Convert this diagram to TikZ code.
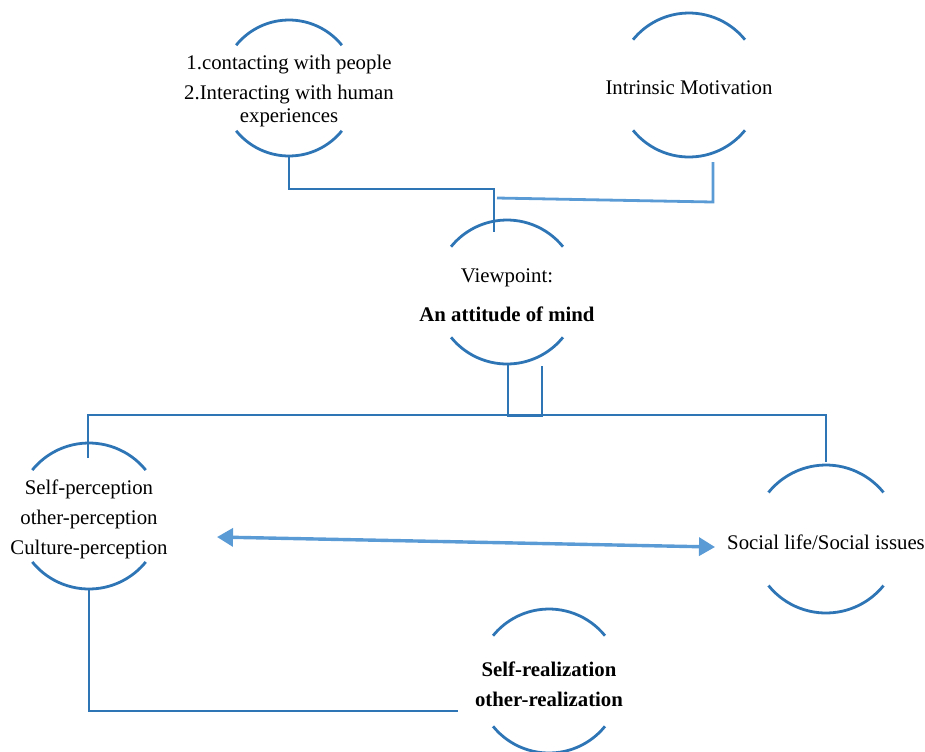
\documentclass[tikz,border=0pt]{standalone}
\usepackage{fontspec}
\setmainfont{Liberation Serif}
\usepackage{tikz}
\usetikzlibrary{calc}
\usetikzlibrary{arrows.meta}
\definecolor{ringblue}{HTML}{2E75B6}
\definecolor{lightblue}{HTML}{5B9BD5}
% two open arcs round a text node, plus its top and bottom points
\newcommand{\ringarcs}[2]{%
\coordinate (#1-c) at ($(#1.center)+(0,3)$);
\draw[ring] (#1-c) ++(39:#2) arc[start angle=39, end angle=141, radius=#2];
\draw[ring] (#1-c) ++(219:#2) arc[start angle=219, end angle=321, radius=#2];
\coordinate (#1-top) at ($(#1-c)+(0,#2)$);
\coordinate (#1-bot) at ($(#1-c)+(0,-#2)$);
}

\begin{document}
\begin{tikzpicture}[x=0.5pt, y=0.5pt,
  ring/.style={draw=ringblue, line width=1.4pt},
  link/.style={draw=ringblue, line width=1.4pt},
  lightlink/.style={draw=lightblue, line width=1.4pt},
  txt/.style={font=\fontsize{10.4}{15}\selectfont, align=center, inner sep=0pt}]
\useasboundingbox (0,0) rectangle (925,-751);
\node[txt] (contact) at (289,-91) {1.contacting with people\\2.Interacting with human\\[-3.25pt]experiences};
\node[txt] (motiv) at (689,-88) {Intrinsic Motivation};
\node[txt] (view) at (507,-295) {Viewpoint:\\[4.5pt]\textbf{An attitude of mind}};
\node[txt] (selfper) at (89,-519) {Self-perception\\other-perception\\Culture-perception};
\node[txt] (social) at (826,-542) {Social life/Social issues};
\node[txt] (selfreal) at (549,-684) {\textbf{Self-realization}\\\textbf{other-realization}};
\ringarcs{contact}{68}
\ringarcs{motiv}{72}
\ringarcs{view}{72}
\ringarcs{selfper}{73}
\ringarcs{social}{74}
\ringarcs{selfreal}{72}
% free ends of the connectors
\coordinate (vjoin) at (494,-232);
\coordinate (mfoot) at (713,-162);
\coordinate (mjoin) at (497,-198);
\coordinate (pdrop) at (88,-458);
\coordinate (sdrop) at (826,-462);
\coordinate (rjoin) at (458,-711);
\coordinate (arrl) at (217,-537);
\coordinate (arrr) at (715,-547);
\draw[link] (contact-bot) -- ++(0,-33) -| (vjoin);
\draw[lightlink] (mfoot) -- ++(0,-40) -- (mjoin);
\draw[link] ($(view-bot)+(1,0)$) -- ++(0,-52) -- ++(34,0) -- ++(0,50);
\draw[link] (pdrop) -- ++(0,43) -| (sdrop);
\draw[link] (selfper-bot) |- (rjoin);
\draw[lightlink, line width=1.7pt, {Triangle[length=8pt,width=9pt]}-{Triangle[length=8pt,width=9pt]}] (arrl) -- (arrr);
\end{tikzpicture}
\end{document}
